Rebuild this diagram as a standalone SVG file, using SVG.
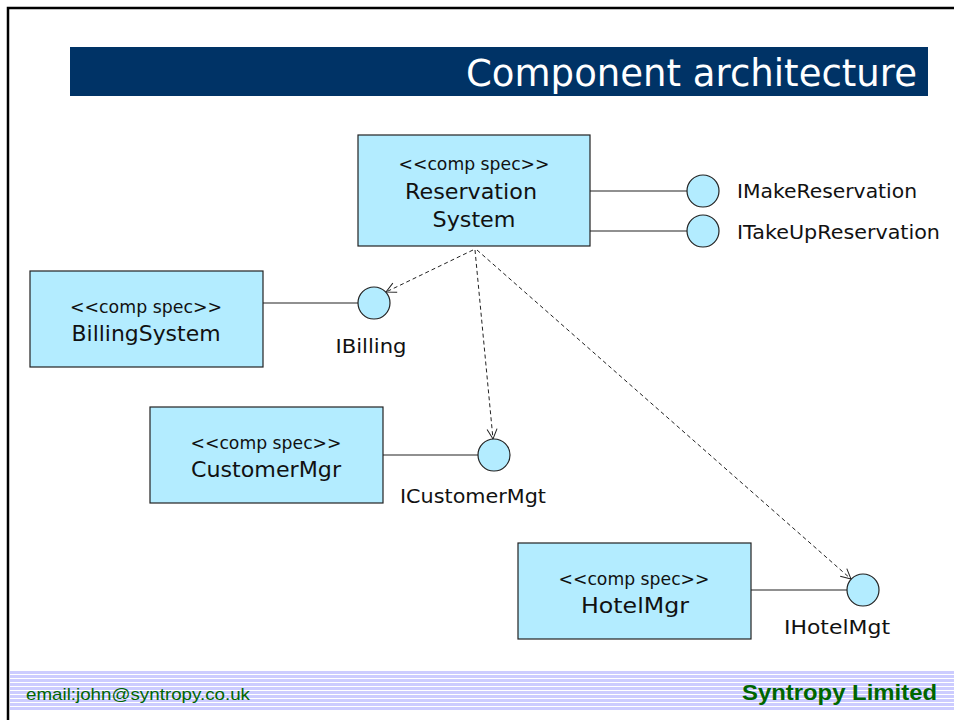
<svg xmlns="http://www.w3.org/2000/svg" width="954" height="720" viewBox="0 0 954 720">
<style>
.box{fill:#b3ecff;stroke:#222;stroke-width:1.2}
.iface{fill:#b3ecff;stroke:#222;stroke-width:1.2}
.lnk{stroke:#222;stroke-width:1.2;fill:none}
.dep{stroke:#222;stroke-width:1;fill:none;stroke-dasharray:4 3}
.t{font-family:"DejaVu Sans","Open Sans",sans-serif;font-size:21px;fill:#111;text-anchor:middle}
.s{font-family:"DejaVu Sans","Open Sans",sans-serif;font-size:18px;fill:#111;text-anchor:middle}
.l{font-family:"DejaVu Sans","Open Sans",sans-serif;font-size:19px;fill:#111}
</style>
<defs>
<marker id="open" viewBox="0 0 12 12" refX="11" refY="6" markerWidth="12" markerHeight="12" markerUnits="userSpaceOnUse" orient="auto">
<path d="M1,1 L11,6 L1,11" fill="none" stroke="#222" stroke-width="1"/>
</marker>
<pattern id="stripes" x="0" y="671" width="10" height="4" patternUnits="userSpaceOnUse">
<rect width="10" height="4" fill="#ccccff"/>
<rect y="3" width="10" height="1" fill="#ffffff"/>
</pattern>
</defs>
<rect width="954" height="720" fill="#ffffff"/>
<path d="M8,720 L8,8 L954,8" fill="none" stroke="#000" stroke-width="2.5"/>
<g id="title">
<rect x="70" y="47" width="858" height="49" fill="#003366"/>
<text x="917" y="86" font-family="DejaVu Sans,Verdana,sans-serif" font-size="37" fill="#ffffff" text-anchor="end" textLength="451" lengthAdjust="spacingAndGlyphs">Component architecture</text>
</g>
<g id="footer">
<rect x="10" y="671" width="944" height="40" fill="url(#stripes)"/>
<text x="26" y="700" font-family="Liberation Sans,Arial,sans-serif" font-size="17" fill="#006600" textLength="224" lengthAdjust="spacingAndGlyphs">email:john@syntropy.co.uk</text>
<text x="937" y="700" font-family="Liberation Sans,Arial,sans-serif" font-size="22" font-weight="bold" fill="#006600" text-anchor="end" textLength="195" lengthAdjust="spacingAndGlyphs">Syntropy Limited</text>
</g>
<g id="connectors">
<line class="lnk" x1="590" y1="191" x2="687" y2="191"/>
<line class="lnk" x1="590" y1="231" x2="687" y2="231"/>
<line class="lnk" x1="263" y1="303" x2="358" y2="303"/>
<line class="lnk" x1="383" y1="455" x2="478" y2="455"/>
<line class="lnk" x1="751" y1="590" x2="847" y2="590"/>
<line class="dep" x1="473" y1="250" x2="386" y2="292" marker-end="url(#open)"/>
<line class="dep" x1="475" y1="250" x2="493" y2="439" marker-end="url(#open)"/>
<line class="dep" x1="477" y1="250" x2="851" y2="579" marker-end="url(#open)"/>
</g>
<g id="ReservationSystem">
<rect class="box" x="358" y="135" width="232" height="111"/>
<text class="s" x="474" y="170" textLength="151" lengthAdjust="spacingAndGlyphs">&lt;&lt;comp spec&gt;&gt;</text>
<text class="t" x="471" y="199" textLength="132" lengthAdjust="spacingAndGlyphs">Reservation</text>
<text class="t" x="474" y="227" textLength="83" lengthAdjust="spacingAndGlyphs">System</text>
</g>
<g id="IMakeReservation">
<circle class="iface" cx="703" cy="191" r="16"/>
<text class="l" x="737" y="198" textLength="180" lengthAdjust="spacingAndGlyphs">IMakeReservation</text>
</g>
<g id="ITakeUpReservation">
<circle class="iface" cx="703" cy="231" r="16"/>
<text class="l" x="737" y="239" textLength="203" lengthAdjust="spacingAndGlyphs">ITakeUpReservation</text>
</g>
<g id="BillingSystem">
<rect class="box" x="30" y="271" width="233" height="96"/>
<text class="s" x="146" y="313" textLength="152" lengthAdjust="spacingAndGlyphs">&lt;&lt;comp spec&gt;&gt;</text>
<text class="t" x="146" y="341" textLength="149" lengthAdjust="spacingAndGlyphs">BillingSystem</text>
</g>
<g id="IBilling">
<circle class="iface" cx="374" cy="303" r="16"/>
<text class="l" x="371" y="353" text-anchor="middle" textLength="71" lengthAdjust="spacingAndGlyphs">IBilling</text>
</g>
<g id="CustomerMgr">
<rect class="box" x="150" y="407" width="233" height="96"/>
<text class="s" x="266" y="449" textLength="151" lengthAdjust="spacingAndGlyphs">&lt;&lt;comp spec&gt;&gt;</text>
<text class="t" x="266" y="477" textLength="150" lengthAdjust="spacingAndGlyphs">CustomerMgr</text>
</g>
<g id="ICustomerMgt">
<circle class="iface" cx="494" cy="455" r="16"/>
<text class="l" x="473" y="503" text-anchor="middle" textLength="146" lengthAdjust="spacingAndGlyphs">ICustomerMgt</text>
</g>
<g id="HotelMgr">
<rect class="box" x="518" y="543" width="233" height="96"/>
<text class="s" x="634" y="585" textLength="151" lengthAdjust="spacingAndGlyphs">&lt;&lt;comp spec&gt;&gt;</text>
<text class="t" x="635" y="613" textLength="108" lengthAdjust="spacingAndGlyphs">HotelMgr</text>
</g>
<g id="IHotelMgt">
<circle class="iface" cx="863" cy="590" r="16"/>
<text class="l" x="837" y="634" text-anchor="middle" textLength="106" lengthAdjust="spacingAndGlyphs">IHotelMgt</text>
</g>
</svg>
